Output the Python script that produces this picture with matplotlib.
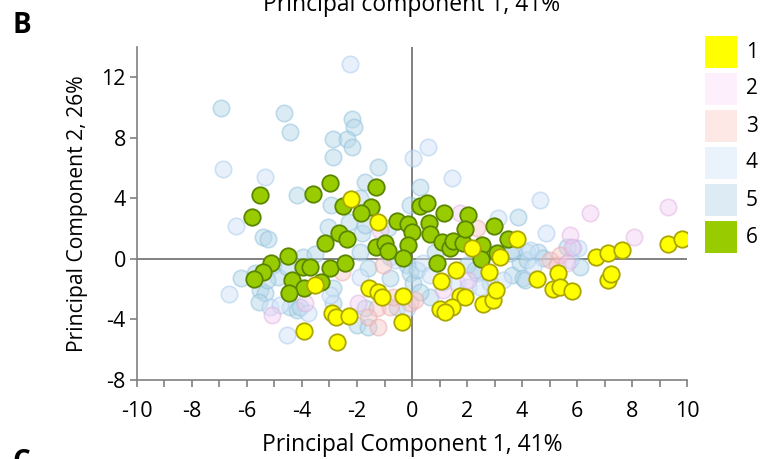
import matplotlib
matplotlib.use("Agg")
import matplotlib.pyplot as plt
from matplotlib.patches import Rectangle

plt.rcParams['font.family'] = ['Open Sans', 'DejaVu Sans']
plt.rcParams['axes.unicode_minus'] = False

# group 1 (yellow)
g1_x = [-2.22, -1.24, -1.56, -1.24, -1.09, -0.33, -0.36, -2.91, -2.76, -2.29, -3.93, -2.73, -3.53,
        3.82, 2.18, 3.2, 2.8, 1.05, 1.75, 1.93, 1.02, 1.45, 1.2, 2.58, 2.95, 3.05,
        4.55, 5.31, 5.13, 5.38, 5.82, 6.69, 7.13, 7.64, 7.13, 7.24, 9.31, 9.82, 1.6]
g1_y = [3.96, 2.44, -1.91, -2.18, -2.51, -2.44, -4.16, -3.56, -3.83, -3.76, -4.75, -5.48, -1.72,
        1.32, 0.73, 0.13, -0.86, -1.45, -2.44, -2.51, -3.3, -3.17, -3.5, -2.97, -2.71, -2.05,
        -1.32, -0.92, -1.98, -1.85, -2.11, 0.13, 0.4, 0.59, -1.39, -0.99, 0.99, 1.32, -0.73]

# group 2 (lavender)
g2_x = [6.47, 5.75, 8.07, 9.31, 5.82, 5.64, 2.04, 1.13, 1.75, -1.96, -3.89, -5.09, -1.16]
g2_y = [3.04, 1.58, 1.45, 3.43, 0.79, -0.26, -1.39, -2.05, 3.04, -2.9, -2.9, -3.7, 1.91]

# group 3 (pink)
g3_x = [2.36, -1.05, -2.55, -1.27, -1.6, -0.8, -1.24, -0.07, -0.69, 0.11, 5.02, 5.27, 5.38]
g3_y = [2.05, -0.4, -0.86, -3.23, -3.83, -3.17, -4.49, -2.9, -2.51, -2.71, -0.07, -0.4, 0.26]

# group 4 (pale blue)
g4_x = [1.45, 0.04, 0.58, -4.55, -6.4, -6.87, -5.35, -2.25, 4.65, 3.13, 4.87, 6.04,
        -6.65, -5.16, -4.8, -3.78, -0.62, 0.4, 0.65, 1.64, 2.04, 3.31, 2.47, 4.29, 4.4, 5.75,
        -1.89, -2.98, -0.18]
g4_y = [5.35, 6.67, 7.39, -5.02, 2.18, 5.94, 5.41, 12.87, 3.89, 2.71, 1.72, 0.73,
        -2.31, -3.17, -3.04, -3.56, -0.07, -0.26, -1.06, -1.58, -1.85, -1.39, -1.85, 0.59, -0.53, -0.07,
        -1.19, -2.38, -3.23]

# group 5 (light blue)
g5_x = [-6.95, -4.65, -4.44, -2.18, -2.11, -2.87, -2.36, -2.18, -2.87, -1.24, -4.18, -1.71,
        -1.89, -2.95, -2.29, -3.05, -5.42, -5.24, 0.29, 3.85, -0.07,
        -6.22, -5.71, -5.53, -5.35, -5.56, -4.44, -4.18, -5.05, -4.87, -5.27, -4.55, -3.96,
        -3.53, -1.89, -1.6, -0.8, -2.87, -2.87, -1.71, -0.55, -2.0, -1.6, -4.07, -0.8,
        -0.18, -0.07, 0.04, -1.82, -0.87, -1.71, 0.84, 0.18, 1.13, 2.36, 0.65, 0.29, 2.0,
        3.64, 3.93, 4.04, 2.84, 2.29, 3.56, 3.67, 4.18, 4.18, 4.58, 4.76, 4.11, 5.85, 6.11,
        5.64]
g5_y = [9.97, 9.64, 8.38, 9.24, 8.71, 7.92, 7.92, 7.39, 6.73, 6.07, 4.22, 5.08,
        4.03, 3.56, 2.44, 2.11, 1.45, 1.32, 4.75, 2.77, 3.56,
        -1.25, -0.92, -2.05, -2.24, -2.84, -3.17, -3.37, -0.4, -1.19, -1.39, -0.53, 0.13,
        0.33, 0.46, -0.59, -1.25, -1.91, -2.9, -3.23, -3.17, -4.36, -4.49, -3.17, 0.13,
        -0.4, -0.92, -1.58, 1.72, 2.05, 2.24, 0.46, -0.73, -1.52, -0.92, -2.51, -2.18, -0.4,
        -1.06, -0.26, -1.25, -1.58, -0.73, 0.4, 0.59, 0.46, -0.07, 0.46, 0.07, -1.39, 0.73, -0.53,
        0.79]

# group 6 (green)
g6_x = [-5.53, -5.82, -3.6, -2.98, -1.31, -2.51, -1.49, -1.85, -0.55, -0.15, 0.0, 0.29, 0.55,
        0.62, -3.16, -2.65, -2.36, -4.51, -5.13, -5.42, -5.75, -4.36, -3.93, -4.47, -3.96,
        -3.71, -2.98, -2.44, -3.31, -1.31, -0.98, -0.87, -0.15, -0.33, 1.16, 2.04, 0.65,
        1.09, 1.38, 1.49, 1.85, 1.93, 2.55, 2.51, 2.98, 3.09, 3.49, 0.91]
g6_y = [4.22, 2.77, 4.29, 5.02, 4.75, 3.5, 3.43, 3.04, 2.51, 2.31, 1.78, 3.5, 3.7,
        2.38, 1.06, 1.72, 1.32, 0.2, -0.26, -0.86, -1.32, -1.39, -1.91, -2.24, -0.53,
        -0.53, -0.59, -0.26, -1.52, 0.79, 1.06, 0.53, 0.92, 0.07, 3.04, 2.9, 1.65,
        1.12, 0.73, 1.19, 1.06, 1.98, 0.92, 0.0, 2.18, 0.4, 1.32, -0.26]

labels = ['1', '2', '3', '4', '5', '6']
legend_colors = ['#ffff00', '#fdf0fc', '#fde8e6', '#eaf3fc', '#dcebf4', '#99cc00']

W, H = 761, 459
fig = plt.figure(figsize=(W / 100, H / 100), dpi=100)
ax = fig.add_axes([0.18, 0.1721, 0.7228, 0.7255])

s = 140
ax.axhline(0, color='#808080', lw=1.4, zorder=1)
ax.axvline(0, color='#808080', lw=1.4, zorder=1)

ax.scatter(g5_x, g5_y, s=s, facecolor='#b9d9ea', edgecolor='#8cbfdc', alpha=0.5, lw=1.2, zorder=2)
ax.scatter(g4_x, g4_y, s=s, facecolor='#d2e5f8', edgecolor='#a6c9ee', alpha=0.5, lw=1.2, zorder=2)
ax.scatter(g3_x, g3_y, s=s, facecolor='#f6c4c4', edgecolor='#e8a4a4', alpha=0.45, lw=1.2, zorder=2)
ax.scatter(g2_x, g2_y, s=s, facecolor='#f2cdf2', edgecolor='#dcaadc', alpha=0.45, lw=1.2, zorder=2)
ax.scatter(g6_x, g6_y, s=s, facecolor='#99cc00', edgecolor='#5a8500', lw=1.3, zorder=3)
ax.scatter(g1_x, g1_y, s=s, facecolor='#ffff00', edgecolor='#aca600', lw=1.3, zorder=4)

ax.set_xlim(-10, 10)
ax.set_ylim(-8, 14)
ax.set_xticks(range(-10, 11, 2))
ax.set_xticks(range(-9, 10, 2), minor=True)
ax.set_yticks(range(-8, 13, 4))
for sp in ['top', 'right']:
    ax.spines[sp].set_visible(False)
for sp in ['left', 'bottom']:
    ax.spines[sp].set_color('#808080')
    ax.spines[sp].set_linewidth(1.2)
ax.tick_params(which='both', length=5, width=1.2, color='#808080', labelsize=15.5)
ax.tick_params(axis='x', which='both', pad=10)
ax.tick_params(axis='y', pad=3)

ax.set_xlabel('Principal Component 1, 41%', fontsize=16.5, labelpad=8)
ax.set_ylabel('Principal Component 2, 26%', fontsize=15.2, labelpad=10)

fig.text(0.541, 0.99, 'Principal component 1, 41%', fontsize=16.5, ha='center', va='center')
fig.text(0.029, 0.944, 'B', fontsize=20, fontweight='bold', ha='center', va='center')
fig.text(0.028, -0.008, 'C', fontsize=20, fontweight='bold', ha='center', va='center')

# legend: coloured squares with labels on the right
for i, (lab, col) in enumerate(zip(labels, legend_colors)):
    top = 36 + 37 * i
    fig.add_artist(Rectangle((705 / W, 1 - (top + 32) / H), 32 / W, 32 / H,
                             transform=fig.transFigure, facecolor=col, edgecolor='none'))
    fig.text(746 / W, 1 - (top + 16) / H, lab, fontsize=15, ha='left', va='center')

fig.savefig('out.png', dpi=100)
